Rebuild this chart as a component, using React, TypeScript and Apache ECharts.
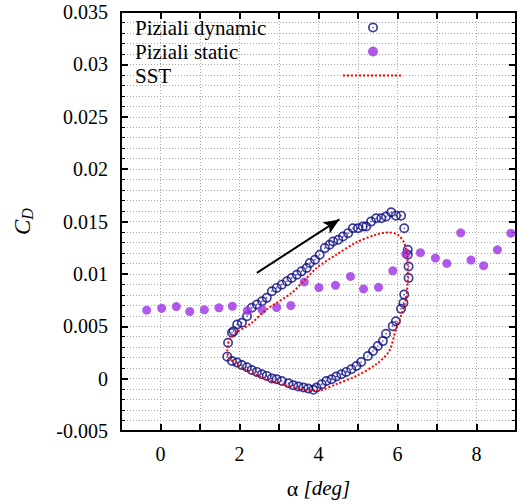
import React, { useEffect, useRef } from "react";
import * as echarts from "echarts";

// Piziali dynamic (hollow circles), loop order
const dynAlpha = [1.69, 1.71, 1.81, 1.85, 1.94, 2.06, 2.19, 2.31, 2.44, 2.57, 2.69, 2.82, 2.94, 3.07, 3.2, 3.32, 3.45, 3.57, 3.7, 3.78, 3.91, 4.03, 4.16, 4.28, 4.37, 4.5, 4.62, 4.75, 4.87, 5.0, 5.12, 5.21, 5.33, 5.46, 5.59, 5.71, 5.84, 5.96, 6.09, 6.17, 6.26, 6.26, 6.28, 6.28, 6.17, 6.15, 6.09, 5.96, 5.88, 5.71, 5.63, 5.5, 5.38, 5.25, 5.08, 4.96, 4.83, 4.7, 4.58, 4.45, 4.33, 4.2, 4.08, 3.95, 3.87, 3.74, 3.62, 3.49, 3.36, 3.24, 3.07, 2.94, 2.82, 2.69, 2.57, 2.44, 2.31, 2.19, 2.06, 1.94, 1.81];
const dynCd = [0.0021, 0.00343, 0.00438, 0.00453, 0.00517, 0.00533, 0.00596, 0.00676, 0.00707, 0.00739, 0.00771, 0.00834, 0.00866, 0.00897, 0.00929, 0.00961, 0.00992, 0.01024, 0.01056, 0.01104, 0.01135, 0.01183, 0.01246, 0.01278, 0.01309, 0.01325, 0.01356, 0.01389, 0.01436, 0.01436, 0.01452, 0.01452, 0.01499, 0.01531, 0.01531, 0.01547, 0.01588, 0.01556, 0.01556, 0.01436, 0.0123, 0.01183, 0.01071, 0.00961, 0.00802, 0.00723, 0.00666, 0.00548, 0.00501, 0.00429, 0.00358, 0.00311, 0.00263, 0.00216, 0.00159, 0.00121, 0.00089, 0.00064, 0.00042, 0.0002, -0.00006, -0.00022, -0.00053, -0.00085, -0.00107, -0.00094, -0.00085, -0.00075, -0.00063, -0.00044, -0.00022, -0.00006, 0.00001, 0.00026, 0.00042, 0.00064, 0.00083, 0.00108, 0.0013, 0.00153, 0.00168];

// Piziali static (filled dots)
const staticAlpha = [-0.35, 0.03, 0.4, 0.74, 1.11, 1.48, 1.82, 2.2, 2.57, 2.94, 3.3, 3.64, 4.01, 4.43, 4.81, 5.14, 5.52, 5.88, 6.21, 6.58, 6.96, 7.25, 7.6, 7.86, 8.18, 8.53, 8.87];
const staticCd = [0.00653, 0.00672, 0.00688, 0.00641, 0.00657, 0.00676, 0.00691, 0.0065, 0.0066, 0.00679, 0.00698, 0.00923, 0.00869, 0.00891, 0.00976, 0.00856, 0.00872, 0.0103, 0.01189, 0.01202, 0.01151, 0.011, 0.01392, 0.01132, 0.01078, 0.0123, 0.01389];

// SST (red dotted loop)
const sstAlpha = [1.69, 1.77, 2.31, 2.69, 3.32, 3.62, 3.95, 4.45, 4.96, 5.46, 5.76, 6.01, 6.17, 6.25, 6.26, 6.21, 6.09, 5.96, 5.79, 5.46, 4.96, 4.45, 4.08, 3.95, 3.57, 3.07, 2.57, 2.06, 1.73, 1.69];
const sstCd = [0.0026, 0.00391, 0.00533, 0.0066, 0.00818, 0.00929, 0.01056, 0.01183, 0.01301, 0.01375, 0.01396, 0.01373, 0.01294, 0.01159, 0.00969, 0.00755, 0.00603, 0.0047, 0.00263, 0.00137, 0.00026, -0.00053, -0.0011, -0.00117, -0.00101, -0.00053, 0.0001, 0.00106, 0.00201, 0.0026];

const arrowStart = [2.44, 0.0101];
const arrowEnd = [4.53, 0.0152];

const seriesNames = ["Piziali dynamic", "Piziali static", "SST"];
const xRange = [-1, 9];
const yRange = [-0.005, 0.035];

const FONT = "Liberation Serif";
const ringDot =
  "path://M10,0 A10,10 0 1,1 10,20 A10,10 0 1,1 10,0 Z M10,3.4 A6.6,6.6 0 1,0 10,16.6 A6.6,6.6 0 1,0 10,3.4 Z M10,8.4 A1.6,1.6 0 1,1 10,11.6 A1.6,1.6 0 1,1 10,8.4 Z";

export default function App() {
  const ref = useRef<HTMLDivElement>(null);
  useEffect(() => {
    if (!ref.current) return;
    const chart = echarts.init(ref.current, null, { renderer: "svg" });
    const gridLine = { show: true, lineStyle: { color: "#a8a8a8", type: [1, 2], width: 1 } };
    const frame = { show: true, onZero: false, lineStyle: { color: "#000", width: 2 } };
    chart.setOption({
      animation: false,
      backgroundColor: "#fff",
      grid: { left: 121, right: 1, top: 12, bottom: 72 },
      legend: {
        data: [
          seriesNames[0],
          seriesNames[1],
          { name: seriesNames[2], itemStyle: { color: "rgba(0,0,0,0)", borderWidth: 0 } },
        ],
        orient: "vertical",
        left: 135,
        top: 17,
        padding: 0,
        align: "right",
        itemWidth: 60,
        itemHeight: 10,
        itemGap: 3,
        selectedMode: false,
        formatter: "{n|{name}}",
        textStyle: {
          fontFamily: FONT,
          fontSize: 21,
          color: "#000",
          rich: {
            n: { fontFamily: FONT, fontSize: 21, color: "#000", width: 203, align: "left", lineHeight: 20 },
          },
        },
      },
      xAxis: [
        {
          type: "value",
          min: xRange[0],
          max: xRange[1],
          interval: 1,
          axisLine: frame,
          axisTick: { show: true, inside: true, length: 7, lineStyle: { width: 2, color: "#000" } },
          axisLabel: {
            fontFamily: FONT,
            fontSize: 20,
            color: "#000",
            margin: 13,
            formatter: (v: number) => (Math.round(v) % 2 === 0 ? String(Math.round(v)) : ""),
          },
          splitLine: gridLine,
          name: "{a|α} {b|[deg]}",
          nameLocation: "middle",
          nameGap: 46,
          nameTextStyle: {
            fontFamily: FONT,
            fontSize: 21,
            color: "#000",
            rich: {
              a: { fontFamily: FONT, fontSize: 22, color: "#000" },
              b: { fontFamily: FONT, fontSize: 21, fontStyle: "italic", color: "#000" },
            },
          },
        },
        {
          type: "value",
          position: "top",
          min: xRange[0],
          max: xRange[1],
          interval: 1,
          axisLine: frame,
          axisTick: { show: true, inside: true, length: 7, lineStyle: { width: 2, color: "#000" } },
          axisLabel: { show: false },
          splitLine: { show: false },
        },
      ],
      yAxis: [
        {
          type: "value",
          min: yRange[0],
          max: yRange[1],
          interval: 0.005,
          axisLine: frame,
          axisTick: { show: true, inside: true, length: 7, lineStyle: { width: 2, color: "#000" } },
          minorTick: { show: true, splitNumber: 5, length: 4, lineStyle: { width: 1, color: "#000" } },
          minorSplitLine: gridLine,
          splitLine: gridLine,
          axisLabel: {
            fontFamily: FONT,
            fontSize: 20,
            color: "#000",
            margin: 13,
            formatter: (v: number) => String(Math.round(v * 1000) / 1000 + 0),
          },
          name: "{c|C}{d|D}",
          nameLocation: "middle",
          nameRotate: 90,
          nameGap: 86,
          nameTextStyle: {
            rich: {
              c: { fontFamily: FONT, fontSize: 23, fontStyle: "italic", color: "#000" },
              d: { fontFamily: FONT, fontSize: 16, fontStyle: "italic", color: "#000", padding: [10, 0, 0, 0] },
            },
          },
        },
        {
          type: "value",
          position: "right",
          min: yRange[0],
          max: yRange[1],
          interval: 0.005,
          axisLine: frame,
          axisTick: { show: true, inside: true, length: 7, lineStyle: { width: 2, color: "#000" } },
          minorTick: { show: true, splitNumber: 5, length: 4, lineStyle: { width: 1, color: "#000" } },
          axisLabel: { show: false },
          splitLine: { show: false },
        },
      ],
      series: [
        {
          name: seriesNames[0],
          type: "scatter",
          xAxisIndex: 0,
          yAxisIndex: 0,
          symbol: ringDot,
          symbolSize: 10,
          itemStyle: { color: "#0c0c84" },
          data: dynAlpha.map((a, i) => [a, dynCd[i]]),
          z: 2,
        },
        {
          name: seriesNames[1],
          type: "scatter",
          xAxisIndex: 0,
          yAxisIndex: 0,
          symbol: "circle",
          symbolSize: 9,
          itemStyle: { color: "#9b30e8" },
          data: staticAlpha.map((a, i) => [a, staticCd[i]]),
          z: 3,
        },
        {
          name: seriesNames[2],
          type: "line",
          xAxisIndex: 0,
          yAxisIndex: 0,
          symbol: "none",
          showSymbol: false,
          smooth: 0.3,
          lineStyle: { color: "#ff0000", width: 2, type: [2, 2] },
          itemStyle: { color: "#ff0000" },
          data: sstAlpha.map((a, i) => [a, sstCd[i]]),
          z: 4,
          markLine: {
            silent: true,
            symbol: ["none", "arrow"],
            symbolSize: [10, 16],
            label: { show: false },
            lineStyle: { color: "#000", width: 2, type: "solid" },
            data: [[{ coord: arrowStart }, { coord: arrowEnd }]],
          },
        },
      ],
    });
    return () => chart.dispose();
  }, []);
  return (
    <div
      ref={ref}
      style={{ position: "fixed", left: 0, top: 0, width: 519, height: 504, background: "#fff" }}
    />
  );
}
